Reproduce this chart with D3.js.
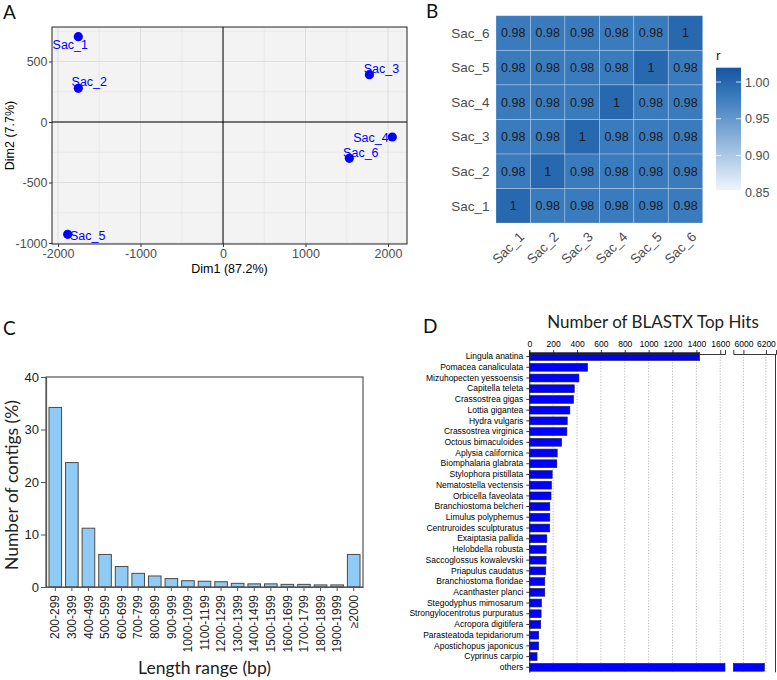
<!DOCTYPE html>
<html><head><meta charset="utf-8">
<script src="https://cdn.jsdelivr.net/npm/d3@7"></script>
<style>body{margin:0;background:#fff}svg{display:block}</style>
</head><body>
<svg id="c" width="777" height="680"></svg>
<script>
// ---------- DATA ----------
const samples = ["Sac_1","Sac_2","Sac_3","Sac_4","Sac_5","Sac_6"];
const dim1 = [-1754, -1754, 1774, 2052, -1883, 1531];
const dim2 = [705, 278, 391, -124, -928, -300];
const pcaXTicks = [-2000, -1000, 0, 1000, 2000];
const pcaYTicks = [-1000, -500, 0, 500];

const corrMatrix = [
  [1, 0.98, 0.98, 0.98, 0.98, 0.98],
  [0.98, 1, 0.98, 0.98, 0.98, 0.98],
  [0.98, 0.98, 1, 0.98, 0.98, 0.98],
  [0.98, 0.98, 0.98, 1, 0.98, 0.98],
  [0.98, 0.98, 0.98, 0.98, 1, 0.98],
  [0.98, 0.98, 0.98, 0.98, 0.98, 1]
];
const legendTicks = [0.85, 0.90, 0.95, 1.00];

const lengthBins = ["200-299","300-399","400-499","500-599","600-699","700-799","800-899","900-999",
  "1000-1099","1100-1199","1200-1299","1300-1399","1400-1499","1500-1599","1600-1699","1700-1799",
  "1800-1899","1900-1999","≥2000"];
const contigPct = [34.2, 23.7, 11.2, 6.2, 3.9, 2.6, 2.1, 1.6, 1.2, 1.1, 1.0, 0.7, 0.6, 0.6, 0.5, 0.5, 0.4, 0.4, 6.2];
const contigTicks = [0, 10, 20, 30, 40];

const species = ["Lingula anatina","Pomacea canaliculata","Mizuhopecten yessoensis","Capitella teleta",
  "Crassostrea gigas","Lottia gigantea","Hydra vulgaris","Crassostrea virginica","Octous bimaculoides",
  "Aplysia californica","Biomphalaria glabrata","Stylophora pistillata","Nematostella vectensis",
  "Orbicella faveolata","Branchiostoma belcheri","Limulus polyphemus","Centruroides sculpturatus",
  "Exaiptasia pallida","Helobdella robusta","Saccoglossus kowalevskii","Priapulus caudatus",
  "Branchiostoma floridae","Acanthaster planci","Stegodyphus mimosarum","Strongylocentrotus purpuratus",
  "Acropora digitifera","Parasteatoda tepidariorum","Apostichopus japonicus","Cyprinus carpio","others"];
const topHits = [1428, 489, 416, 377, 371, 340, 318, 315, 271, 234, 231, 192, 186, 182, 172, 172, 171,
  147, 141, 141, 138, 130, 130, 102, 99, 96, 79, 79, 65, 6187];
const hitTicksLow = [0, 200, 400, 600, 800, 1000, 1200, 1400, 1600];
const hitTicksHigh = [6000, 6200];

// ---------- SETUP ----------
const svg = d3.select("#c");
const ARIAL = "Arial, 'Liberation Sans', sans-serif";
const HUM = "Lato, 'Open Sans', sans-serif";

function panelLabel(t, x, y) {
  svg.append("text").attr("x", x).attr("y", y).text(t)
    .attr("font-family", HUM).attr("font-size", 19).attr("fill", "#111");
}
panelLabel("A", 3, 19);
panelLabel("B", 426, 18);
panelLabel("C", 3, 335);
panelLabel("D", 423, 333);

// ---------- PANEL A ----------
(function(){
  const L = 52, R = 407, T = 27, B = 244;
  const x = d3.scaleLinear().domain([-2073, 2230]).range([L, R]);
  const y = d3.scaleLinear().domain([785, -1008]).range([T, B]);
  const g = svg.append("g");
  g.append("rect").attr("x", L).attr("y", T).attr("width", R - L).attr("height", B - T).attr("fill", "#f3f3f3");
  const xMinor = d3.range(-2500, 2501, 1000).filter(v => v > -2073 && v < 2230);
  const yMinor = d3.range(-1250, 1000, 500).filter(v => v > -1008 && v < 785);
  g.selectAll(".xm").data(xMinor).join("line").attr("x1", d => x(d)).attr("x2", d => x(d))
    .attr("y1", T).attr("y2", B).attr("stroke", "#e4e4e4").attr("stroke-width", 0.6);
  g.selectAll(".ym").data(yMinor).join("line").attr("y1", d => y(d)).attr("y2", d => y(d))
    .attr("x1", L).attr("x2", R).attr("stroke", "#e4e4e4").attr("stroke-width", 0.6);
  g.selectAll(".xM").data(pcaXTicks).join("line").attr("x1", d => x(d)).attr("x2", d => x(d))
    .attr("y1", T).attr("y2", B).attr("stroke", "#dedede").attr("stroke-width", 1);
  g.selectAll(".yM").data(pcaYTicks).join("line").attr("y1", d => y(d)).attr("y2", d => y(d))
    .attr("x1", L).attr("x2", R).attr("stroke", "#dedede").attr("stroke-width", 1);
  g.append("line").attr("x1", x(0)).attr("x2", x(0)).attr("y1", T).attr("y2", B).attr("stroke", "#000").attr("stroke-width", 1);
  g.append("line").attr("y1", y(0)).attr("y2", y(0)).attr("x1", L).attr("x2", R).attr("stroke", "#000").attr("stroke-width", 1);
  g.append("rect").attr("x", L).attr("y", T).attr("width", R - L).attr("height", B - T)
    .attr("fill", "none").attr("stroke", "#222").attr("stroke-width", 1);
  const ax = g.append("g").attr("transform", `translate(0,${B})`)
    .call(d3.axisBottom(x).tickValues(pcaXTicks).tickSize(3).tickPadding(2).tickFormat(d3.format("d")));
  const ay = g.append("g").attr("transform", `translate(${L},0)`)
    .call(d3.axisLeft(y).tickValues(pcaYTicks).tickSize(3).tickPadding(1.5).tickFormat(d3.format("d")));
  [ax, ay].forEach(a => {
    a.select(".domain").remove();
    a.selectAll("line").attr("stroke", "#333");
    a.selectAll("text").attr("font-family", ARIAL).attr("font-size", 12.5).attr("fill", "#4d4d4d");
  });
  ax.selectAll("text").text(d => d < 0 ? "-" + Math.abs(d) : d);
  ay.selectAll("text").text(d => d < 0 ? "-" + Math.abs(d) : d);
  g.append("text").attr("x", (L + R) / 2).attr("y", 273).attr("text-anchor", "middle")
    .attr("font-family", ARIAL).attr("font-size", 12.5).attr("fill", "#000").text("Dim1 (87.2%)");
  g.append("text").attr("transform", `translate(14,${(T + B) / 2}) rotate(-90)`).attr("text-anchor", "middle")
    .attr("font-family", ARIAL).attr("font-size", 12.5).attr("fill", "#000").text("Dim2 (7.7%)");
  const pts = samples.map((s, i) => ({ s, x: dim1[i], y: dim2[i] }));
  g.selectAll(".pt").data(pts).join("circle").attr("cx", d => x(d.x)).attr("cy", d => y(d.y))
    .attr("r", 4.6).attr("fill", "#0000ff");
  // label offsets in pixels (repel-style placement)
  const off = { Sac_1: [-8, 8.3], Sac_2: [11, -6.7], Sac_3: [12, -5.7], Sac_4: [-21.3, 0.7], Sac_5: [20, 1.4], Sac_6: [11.5, -6.3] };
  g.selectAll(".lb").data(pts).join("text")
    .attr("x", d => x(d.x) + off[d.s][0]).attr("y", d => y(d.y) + off[d.s][1]).attr("dy", "0.36em")
    .attr("text-anchor", "middle").attr("font-family", ARIAL).attr("font-size", 12.5).attr("fill", "#0000ff")
    .text(d => d.s);
})();

// ---------- PANEL B ----------
(function(){
  const g = svg.append("g");
  const x = d3.scaleBand().domain(samples).range([496, 702.7]);
  const y = d3.scaleBand().domain(samples.slice().reverse()).range([15.7, 223]);
  const lo = 0.853, hi = 1.0195;
  const col = d3.scaleLinear().domain([lo, 0.98, hi]).range(["#eef5fc", "#3a7bbd", "#1755a1"]);
  const cells = [];
  samples.forEach((r, i) => samples.forEach((c, j) => cells.push({ r, c, v: corrMatrix[i][j] })));
  g.selectAll(".cell").data(cells).join("rect")
    .attr("x", d => x(d.c)).attr("y", d => y(d.r)).attr("width", x.bandwidth()).attr("height", y.bandwidth())
    .attr("fill", d => col(d.v)).attr("stroke", "rgba(255,255,255,0.35)").attr("stroke-width", 0.7);
  g.selectAll(".val").data(cells).join("text")
    .attr("x", d => x(d.c) + x.bandwidth() / 2).attr("y", d => y(d.r) + y.bandwidth() / 2).attr("dy", "0.36em")
    .attr("text-anchor", "middle").attr("font-family", ARIAL).attr("font-size", 12.5).attr("fill", "#1a1a1a")
    .text(d => String(d.v));
  g.selectAll(".rl").data(samples).join("text")
    .attr("x", 489.5).attr("y", d => y(d) + y.bandwidth() / 2).attr("dy", "0.36em").attr("text-anchor", "end")
    .attr("font-family", ARIAL).attr("font-size", 13.5).attr("fill", "#4d4d4d").text(d => d);
  g.selectAll(".cl").data(samples).join("text")
    .attr("transform", d => `translate(${x(d) + x.bandwidth() / 2 + 5},${231}) rotate(-45)`)
    .attr("dy", "0.71em").attr("text-anchor", "end")
    .attr("font-family", ARIAL).attr("font-size", 13.5).attr("fill", "#4d4d4d").text(d => d);
  const ly = d3.scaleLinear().domain([lo, hi]).range([190, 67.7]);
  const defs = svg.append("defs");
  const grad = defs.append("linearGradient").attr("id", "gr").attr("x1", 0).attr("x2", 0).attr("y1", 1).attr("y2", 0);
  d3.range(0, 1.001, 0.05).forEach(t => grad.append("stop").attr("offset", t).attr("stop-color", col(lo + t * (hi - lo))));
  g.append("rect").attr("x", 716).attr("y", 67.7).attr("width", 25).attr("height", 190 - 67.7).attr("fill", "url(#gr)");
  legendTicks.forEach(v => {
    g.append("line").attr("x1", 716).attr("x2", 721).attr("y1", ly(v)).attr("y2", ly(v)).attr("stroke", "#fff").attr("stroke-opacity", 0.8);
    g.append("line").attr("x1", 736).attr("x2", 741).attr("y1", ly(v)).attr("y2", ly(v)).attr("stroke", "#fff").attr("stroke-opacity", 0.8);
  });
  g.selectAll(".lt").data(legendTicks).join("text").attr("x", 745).attr("y", d => ly(d)).attr("dy", "0.36em")
    .attr("font-family", ARIAL).attr("font-size", 12.5).attr("fill", "#4d4d4d").text(d => d3.format(".2f")(d));
  g.append("text").attr("x", 716).attr("y", 60).attr("font-family", ARIAL).attr("font-size", 13.5).attr("fill", "#222").text("r");
})();

// ---------- PANEL C ----------
(function(){
  const L = 46, R = 363, T = 377, B = 587;
  const g = svg.append("g");
  const x = d3.scaleBand().domain(lengthBins).range([L, R]).paddingInner(0.24).paddingOuter(0.18);
  const y = d3.scaleLinear().domain([0, 40]).range([B, T]);
  g.selectAll(".bar").data(lengthBins.map((b, i) => ({ b, v: contigPct[i] }))).join("rect")
    .attr("x", d => x(d.b)).attr("width", x.bandwidth()).attr("y", d => y(d.v)).attr("height", d => B - y(d.v))
    .attr("fill", "#8fcbf5").attr("stroke", "#4a4a4a").attr("stroke-width", 1);
  g.append("rect").attr("x", L).attr("y", T).attr("width", R - L).attr("height", B - T)
    .attr("fill", "none").attr("stroke", "#555").attr("stroke-width", 1.2);
  const ay = g.append("g").attr("transform", `translate(${L},0)`)
    .call(d3.axisLeft(y).tickValues(contigTicks).tickSize(5).tickPadding(2));
  const ax = g.append("g").attr("transform", `translate(0,${B})`)
    .call(d3.axisBottom(x).tickSize(4).tickSizeOuter(0));
  [ax, ay].forEach(a => {
    a.select(".domain").attr("stroke", "#555").attr("stroke-width", 1.2);
    a.selectAll("line").attr("stroke", "#555");
    a.selectAll("text").attr("font-family", ARIAL).attr("fill", "#222");
  });
  ay.selectAll("text").attr("font-size", 13);
  ax.selectAll("text").attr("font-size", 12).attr("y", 0).attr("x", -8).attr("dy", "0.35em")
    .attr("transform", "rotate(-90)").attr("text-anchor", "end");
  g.append("text").attr("x", (L + R) / 2).attr("y", 674).attr("text-anchor", "middle")
    .attr("font-family", HUM).attr("font-size", 17.5).attr("fill", "#222").text("Length range (bp)");
  g.append("text").attr("transform", `translate(18,${(T + B) / 2 + 3}) rotate(-90)`).attr("text-anchor", "middle")
    .attr("font-family", HUM).attr("font-size", 17.5).attr("fill", "#222").text("Number of contigs (%)");
})();

// ---------- PANEL D ----------
(function(){
  const L = 529.3, BR1 = 725, BR2 = 733.3, R = 776, T = 354;
  const g = svg.append("g");
  const y = d3.scaleBand().domain(species).range([351.6, 672.3]).paddingInner(0.27).paddingOuter(0.1);
  const xl = d3.scaleLinear().domain([0, 1640]).range([L, BR1]);
  const xr = d3.scaleLinear().domain([5910, 6290]).range([BR2, R]);
  const B = 672.3;
  g.selectAll(".gl").data(hitTicksLow.filter(v => v > 0)).join("line")
    .attr("x1", d => xl(d)).attr("x2", d => xl(d)).attr("y1", T).attr("y2", B)
    .attr("stroke", "#9a9a9a").attr("stroke-width", 0.7).attr("stroke-dasharray", "1.2,1.6");
  g.selectAll(".gr").data(hitTicksHigh).join("line")
    .attr("x1", d => xr(d)).attr("x2", d => xr(d)).attr("y1", T).attr("y2", B)
    .attr("stroke", "#9a9a9a").attr("stroke-width", 0.7).attr("stroke-dasharray", "1.2,1.6");
  const rows = species.map((s, i) => ({ s, v: topHits[i] }));
  g.selectAll(".bl").data(rows).join("rect")
    .attr("x", L).attr("y", d => y(d.s)).attr("height", y.bandwidth())
    .attr("width", d => xl(Math.min(d.v, 1640)) - L)
    .attr("fill", "#0000ff").attr("stroke", "#222").attr("stroke-width", 0.6);
  g.selectAll(".br").data(rows.filter(d => d.v > 5910)).join("rect")
    .attr("x", BR2).attr("y", d => y(d.s)).attr("height", y.bandwidth())
    .attr("width", d => xr(d.v) - BR2)
    .attr("fill", "#0000ff").attr("stroke", "#222").attr("stroke-width", 0.6);
  const a1 = g.append("g").attr("transform", `translate(0,${T})`)
    .call(d3.axisTop(xl).tickValues(hitTicksLow).tickSize(4).tickSizeOuter(4).tickPadding(3).tickFormat(d3.format("d")));
  const a2 = g.append("g").attr("transform", `translate(0,${T})`)
    .call(d3.axisTop(xr).tickValues(hitTicksHigh).tickSize(4).tickSizeOuter(4).tickPadding(3).tickFormat(d3.format("d")));
  const al = g.append("g").attr("transform", `translate(${L},0)`)
    .call(d3.axisLeft(y).tickSize(3).tickSizeOuter(0).tickPadding(3));
  [a1, a2, al].forEach(a => {
    a.select(".domain").attr("stroke", "#222").attr("stroke-width", 0.9);
    a.selectAll("line").attr("stroke", "#222").attr("stroke-width", 0.9);
    a.selectAll("text").attr("font-family", ARIAL).attr("font-size", 8.5).attr("fill", "#000");
  });
  g.append("line").attr("x1", R - 0.5).attr("x2", R - 0.5).attr("y1", T).attr("y2", B).attr("stroke", "#222").attr("stroke-width", 0.9);
  g.append("text").attr("x", 653).attr("y", 328).attr("text-anchor", "middle")
    .attr("font-family", HUM).attr("font-size", 17).attr("fill", "#222").text("Number of BLASTX Top Hits");
})();
</script>
</body></html>
